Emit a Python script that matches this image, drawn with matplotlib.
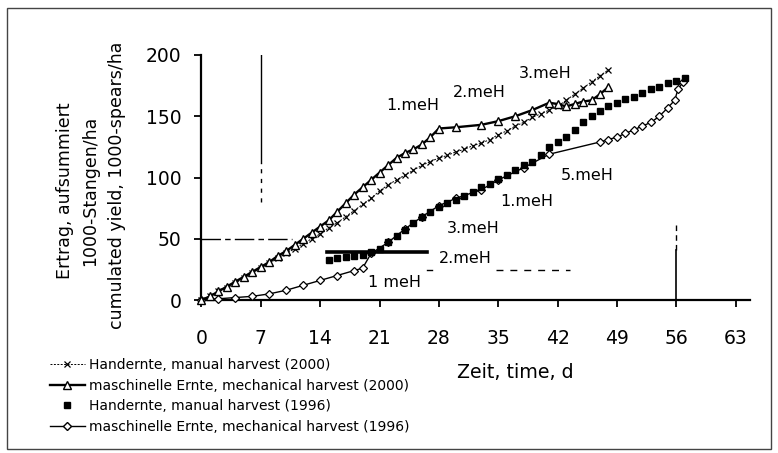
import matplotlib
matplotlib.use('Agg')
import matplotlib.pyplot as plt
from matplotlib.lines import Line2D
from matplotlib.patches import Rectangle

# manual harvest 2000 (x markers)
hand00_day = list(range(0, 49))
hand00_yield = [0, 3, 7, 10, 14, 18, 22, 26, 30, 34, 38, 42, 46, 50, 54, 59, 63, 68, 73, 78,
                83, 89, 94, 98, 102, 106, 110, 113, 116, 118, 121, 123, 126, 128, 131, 135,
                138, 142, 145, 149, 152, 155, 158, 163, 168, 173, 178, 183, 188]

# mechanical harvest 2000 (triangles)
mech00_day = list(range(0, 29)) + [30, 33, 35, 37, 39, 41, 42, 43, 44, 45, 46, 47, 48]
mech00_yield = [0, 3, 7, 11, 15, 19, 23, 27, 31, 36, 40, 45, 50, 55, 60, 65, 72, 79, 86, 92,
                98, 104, 110, 116, 120, 123, 127, 133, 140,
                141, 143, 146, 150, 155, 161, 160, 158, 160, 162, 163, 168, 174]

# manual harvest 1996 (filled squares)
hand96_day = list(range(15, 58))
hand96_yield = [33, 34, 35, 36, 37, 39, 42, 47, 52, 57, 63, 68, 72, 76, 79, 82, 85, 88, 92, 95,
                99, 102, 106, 110, 113, 118, 125, 129, 133, 139, 145, 150, 154, 158, 161, 164,
                166, 169, 172, 174, 177, 179, 181]

# mechanical harvest 1996 (open diamonds)
mech96_day = [0, 2, 4, 6, 8, 10, 12, 14, 16, 18, 19, 20, 22, 24, 26, 28, 30, 33, 35, 38, 41,
              47, 48, 49, 50, 51, 52, 53, 54, 55, 55.8, 56.2, 56.8]
mech96_yield = [0, 1, 2, 3, 5, 8, 12, 16, 20, 24, 26, 38, 47, 58, 68, 77, 83, 90, 98, 108, 119,
                129, 131, 133, 136, 139, 142, 145, 150, 157, 163, 172, 178]

labels = ['Handernte, manual harvest (2000)',
          'maschinelle Ernte, mechanical harvest (2000)',
          'Handernte, manual harvest (1996)',
          'maschinelle Ernte, mechanical harvest (1996)']

# harvest event labels (text, day, yield)
events = [('1.meH', 24.9, 159), ('2.meH', 32.8, 169), ('3.meH', 40.5, 185),
          ('5.meH', 45.5, 102), ('1.meH', 38.4, 80), ('3.meH', 32.0, 58),
          ('2.meH', 31.1, 34), ('1 meH', 22.8, 14)]

x_ticks = list(range(0, 64, 7))
y_ticks = [0, 50, 100, 150, 200]

fig = plt.figure(figsize=(7.78, 4.53), dpi=100)
ax = fig.add_axes([201.5 / 778, 153 / 453, 548.6 / 778, 245 / 453])

ax.plot(hand00_day, hand00_yield, color='black', lw=0.7, ls=(0, (2, 1.5)),
        marker='x', ms=4.5, mew=0.9, clip_on=False, zorder=3)
ax.plot(mech00_day, mech00_yield, color='black', lw=1.7, marker='^', ms=5.5,
        mfc='white', mec='black', mew=1.0, clip_on=False, zorder=4)
ax.plot(hand96_day, hand96_yield, color='black', lw=0, marker='s', ms=4.2,
        clip_on=False, zorder=4)
ax.plot(mech96_day, mech96_yield, color='black', lw=1.0, marker='D', ms=4.3,
        mfc='white', mec='black', mew=0.9, clip_on=False, zorder=3)

# reference lines
ax.plot([7, 7], [112, 200], color='black', lw=1.0)
ax.plot([7, 7], [80, 112], color='black', lw=1.0, ls=(0, (3, 4)))
ax.plot([0, 10.7], [50, 50], color='black', lw=1.0, ls=(0, (14, 3, 4, 3)))
ax.plot([14.8, 26.6], [39, 39], color='black', lw=2.6)
ax.plot([26.6, 27.2], [24.5, 24.5], color='black', lw=1.0)
ax.plot([34.7, 43.5], [24.5, 24.5], color='black', lw=1.0, ls=(0, (5, 5)))
ax.plot([56, 56], [0, 41], color='black', lw=1.2)
ax.plot([56, 56], [41, 64], color='black', lw=1.0, ls=(0, (4, 3)))

for txt, x, y in events:
    ax.text(x, y, txt, fontsize=11.5, ha='center', va='center')

ax.set_xlim(0, 64.7)
ax.set_ylim(0, 200)
ax.set_xticks(x_ticks)
ax.set_yticks(y_ticks)
for s in ['top', 'right']:
    ax.spines[s].set_visible(False)
for s in ['left', 'bottom']:
    ax.spines[s].set_linewidth(1.6)
ax.tick_params(axis='both', direction='out', length=5, width=1.3, labelsize=13.5)
ax.tick_params(axis='x', pad=16)
ax.tick_params(axis='y', pad=9.5)

fig.text(515 / 778, 1 - 372 / 453, 'Zeit, time, d', fontsize=13.7, ha='center', va='center')
fig.text(65 / 778, 1 - 191 / 453, 'Ertrag, aufsummiert', fontsize=12.5,
         rotation=90, ha='center', va='center')
fig.text(90 / 778, 1 - 191 / 453, '1000-Stangen/ha', fontsize=12.5,
         rotation=90, ha='center', va='center')
fig.text(117 / 778, 1 - 185 / 453, 'cumulated yield, 1000-spears/ha', fontsize=12.5,
         rotation=90, ha='center', va='center')

handles = [
    Line2D([], [], color='black', lw=0.7, ls=(0, (2, 1.5)), marker='x', ms=4.5, mew=0.9),
    Line2D([], [], color='black', lw=1.7, marker='^', ms=5.5, mfc='white', mec='black'),
    Line2D([], [], color='black', lw=0, marker='s', ms=4.2),
    Line2D([], [], color='black', lw=1.0, marker='D', ms=4.3, mfc='white', mec='black'),
]
fig.legend(handles, labels, loc='upper left', bbox_to_anchor=(50 / 778, 1 - 358 / 453),
           frameon=False, fontsize=10, handlelength=2.5, handletextpad=0.3,
           labelspacing=0.47, borderpad=0, borderaxespad=0)

fig.add_artist(Rectangle((7 / 778, 1 - 449 / 453), 764 / 778, 441 / 453,
                         transform=fig.transFigure, fill=False, edgecolor='#444444', lw=1))

fig.savefig('out.png', dpi=100)
